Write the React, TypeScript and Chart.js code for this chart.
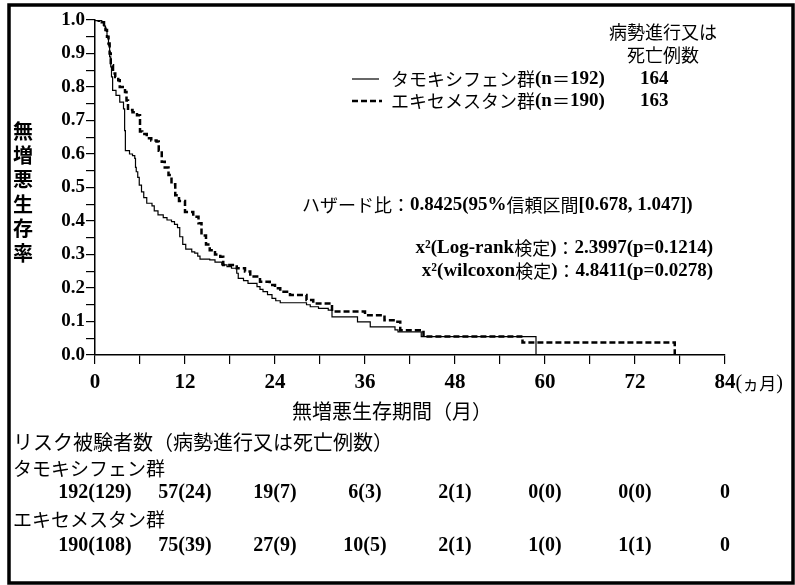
import React, { useEffect, useRef } from 'react';
import { Chart, registerables } from 'chart.js';

Chart.register(...registerables);

// ---- data ----
const tamoxTime = [0, 0.5, 0.9, 1.2, 1.4, 1.6, 1.8, 1.95, 2.1, 2.2, 2.35, 2.8, 3.3, 3.8, 3.95, 4.05, 4.6, 5.0, 5.3, 5.4, 5.5, 5.7, 5.9, 6.2, 6.5, 6.9, 7.6, 7.9, 8.4, 9.1, 9.6, 10.2, 10.6, 11.0, 11.3, 11.7, 12.1, 12.9, 13.3, 13.7, 14.0, 15.3, 16.0, 16.9, 17.6, 18.2, 18.9, 19.1, 19.8, 20.4, 21.6, 22.0, 22.4, 23.0, 23.6, 24.1, 24.7, 28.2, 28.7, 29.8, 31.1, 31.6, 35.0, 36.7, 40.0, 40.4, 43.5, 58.8];
const tamoxSurv = [1, 0.998, 0.993, 0.982, 0.97, 0.95, 0.925, 0.89, 0.86, 0.83, 0.79, 0.775, 0.755, 0.735, 0.67, 0.61, 0.6, 0.595, 0.587, 0.56, 0.547, 0.53, 0.507, 0.487, 0.47, 0.453, 0.445, 0.43, 0.418, 0.41, 0.403, 0.398, 0.39, 0.38, 0.353, 0.33, 0.316, 0.308, 0.304, 0.295, 0.286, 0.284, 0.277, 0.269, 0.264, 0.259, 0.244, 0.229, 0.222, 0.214, 0.204, 0.196, 0.189, 0.18, 0.169, 0.162, 0.156, 0.15, 0.144, 0.139, 0.134, 0.114, 0.099, 0.084, 0.075, 0.069, 0.055, 0];

const exeTime = [0, 0.5, 0.9, 1.2, 1.4, 1.6, 1.8, 1.95, 2.1, 2.4, 2.7, 3.1, 3.3, 4.0, 4.2, 4.4, 5.0, 5.6, 6.0, 6.3, 6.9, 7.5, 8.2, 8.5, 8.9, 9.3, 9.8, 10.2, 10.7, 11.2, 12.0, 13.1, 13.8, 14.2, 14.8, 15.3, 16.0, 16.7, 17.1, 18.9, 20.0, 20.7, 22.0, 23.3, 24.0, 24.7, 26.0, 28.2, 29.1, 31.6, 36.0, 38.6, 40.0, 40.7, 43.3, 43.8, 57.0, 77.3];
const exeSurv = [1, 0.998, 0.993, 0.982, 0.97, 0.95, 0.93, 0.9, 0.865, 0.84, 0.83, 0.82, 0.8, 0.785, 0.76, 0.731, 0.725, 0.716, 0.667, 0.66, 0.647, 0.64, 0.637, 0.61, 0.577, 0.56, 0.537, 0.51, 0.477, 0.46, 0.427, 0.413, 0.393, 0.357, 0.33, 0.313, 0.3, 0.293, 0.269, 0.259, 0.249, 0.234, 0.219, 0.209, 0.199, 0.189, 0.179, 0.164, 0.154, 0.13, 0.119, 0.104, 0.099, 0.074, 0.069, 0.055, 0.037, 0];

const riskTimes = [0, 12, 24, 36, 48, 60, 72, 84];
const tamoxRisk = ['192(129)', '57(24)', '19(7)', '6(3)', '2(1)', '0(0)', '0(0)', '0'];
const exeRisk = ['190(108)', '75(39)', '27(9)', '10(5)', '2(1)', '1(0)', '1(1)', '0'];

const legendLabels = ['タモキシフェン群(n＝192)', 'エキセメスタン群(n＝190)'];
const eventCounts = ['164', '163'];
const legendHeader = ['病勢進行又は', '死亡例数'];
const yTitle = '無増悪生存率';
const xTitle = '無増悪生存期間（月）';
const xUnit = '(ヵ月)';
const hazardText = 'ハザード比：0.8425(95%信頼区間[0.678, 1.047])';
const testTexts = ['x²(Log-rank検定)：2.3997(p=0.1214)', 'x²(wilcoxon検定)：4.8411(p=0.0278)'];
const riskHeader = 'リスク被験者数（病勢進行又は死亡例数）';
const groupNames = ['タモキシフェン群', 'エキセメスタン群'];

// ---- text helpers ----
const LATIN = "'Liberation Serif', 'Times New Roman', serif";
const CJK = "'Noto Sans CJK JP', sans-serif";

function isCJK(ch: string) {
  const c = ch.codePointAt(0) || 0;
  return c >= 0x2e80;
}

function splitRuns(text: string) {
  const runs: { t: string; cjk: boolean }[] = [];
  for (const ch of Array.from(text)) {
    const cj = isCJK(ch);
    const last = runs[runs.length - 1];
    if (last && last.cjk === cj) last.t += ch;
    else runs.push({ t: ch, cjk: cj });
  }
  return runs;
}

function drawMixed(
  ctx: CanvasRenderingContext2D,
  text: string,
  x: number,
  y: number,
  size: number,
  align: 'left' | 'center' | 'right' = 'left',
  cjkWeight = 'normal',
  latinWeight = 'bold',
  latinSize?: number
) {
  const runs = splitRuns(text);
  const fonts = runs.map((r) =>
    r.cjk ? `${cjkWeight} ${size}px ${CJK}` : `${latinWeight} ${latinSize || size}px ${LATIN}`
  );
  const widths = runs.map((r, i) => {
    ctx.font = fonts[i];
    return ctx.measureText(r.t).width;
  });
  const total = widths.reduce((a, b) => a + b, 0);
  let cx = align === 'left' ? x : align === 'right' ? x - total : x - total / 2;
  ctx.textAlign = 'left';
  ctx.textBaseline = 'middle';
  runs.forEach((r, i) => {
    ctx.font = fonts[i];
    ctx.fillText(r.t, cx, y);
    cx += widths[i];
  });
  return total;
}

const overlayPlugin = {
  id: 'overlay',
  beforeDraw(chart: any) {
    const ctx = chart.ctx;
    ctx.save();
    ctx.fillStyle = '#fff';
    ctx.fillRect(0, 0, chart.width, chart.height);
    ctx.restore();
  },
  afterDraw(chart: any) {
    const ctx: CanvasRenderingContext2D = chart.ctx;
    const xs = chart.scales.x;
    ctx.save();
    ctx.fillStyle = '#000';
    ctx.strokeStyle = '#000';

    // y title (vertical stacked)
    Array.from(yTitle).forEach((c, i) => {
      ctx.font = `bold 20px ${CJK}`;
      ctx.textAlign = 'center';
      ctx.textBaseline = 'middle';
      ctx.fillText(c, 23, 131 + i * 24.4);
    });

    // legend header
    drawMixed(ctx, legendHeader[0], 663, 32, 18, 'center');
    drawMixed(ctx, legendHeader[1], 663, 55, 18, 'center');

    // legend rows
    const rowsY = [79, 101];
    ctx.lineWidth = 1.2;
    ctx.setLineDash([]);
    ctx.beginPath();
    ctx.moveTo(352, rowsY[0]);
    ctx.lineTo(379, rowsY[0]);
    ctx.stroke();
    ctx.lineWidth = 2.5;
    ctx.setLineDash([6, 3]);
    ctx.beginPath();
    ctx.moveTo(352, rowsY[1]);
    ctx.lineTo(382, rowsY[1]);
    ctx.stroke();
    ctx.setLineDash([]);
    legendLabels.forEach((l, i) => {
      drawMixed(ctx, l, 391, rowsY[i], 18, 'left', 'normal', 'bold', 19);
      drawMixed(ctx, eventCounts[i], 640, rowsY[i], 19, 'left');
    });

    // stats
    drawMixed(ctx, hazardText, 302, 205, 18, 'left', 'normal', 'bold', 19);
    testTexts.forEach((t, i) => {
      drawMixed(ctx, t, 713, 248 + i * 23, 18, 'right', 'normal', 'bold', 19);
    });

    // x unit after 84
    ctx.font = `bold 21px ${LATIN}`;
    const w84 = ctx.measureText('84').width;
    drawMixed(ctx, xUnit, xs.getPixelForValue(84) + w84 / 2, 384, 17, 'left', 'normal', 'normal', 20);

    // x title
    drawMixed(ctx, xTitle, 392, 411, 20, 'center');

    // risk table
    drawMixed(ctx, riskHeader, 13, 442, 20, 'left');
    drawMixed(ctx, groupNames[0], 13, 469, 19, 'left');
    drawMixed(ctx, groupNames[1], 13, 520, 19, 'left');
    riskTimes.forEach((t, i) => {
      const px = xs.getPixelForValue(t);
      drawMixed(ctx, tamoxRisk[i], px, 493, 20, 'center');
      drawMixed(ctx, exeRisk[i], px, 546, 20, 'center');
    });

    // frame
    ctx.lineWidth = 3.5;
    ctx.strokeRect(9, 5, 784, 578);
    ctx.restore();
  },
};

export default function App() {
  const ref = useRef<HTMLCanvasElement | null>(null);
  useEffect(() => {
    if (!ref.current) return;
    const chart = new Chart(ref.current, {
      type: 'line',
      data: {
        datasets: [
          {
            label: 'タモキシフェン群',
            data: tamoxTime.map((t, i) => ({ x: t, y: tamoxSurv[i] })),
            borderColor: '#000',
            borderWidth: 1.2,
            pointRadius: 0,
            stepped: 'before',
            fill: false,
          },
          {
            label: 'エキセメスタン群',
            data: exeTime.map((t, i) => ({ x: t, y: exeSurv[i] })),
            borderColor: '#000',
            borderWidth: 2.5,
            borderDash: [6, 3],
            pointRadius: 0,
            stepped: 'before',
            fill: false,
          },
        ],
      },
      options: {
        animation: false,
        responsive: false,
        devicePixelRatio: 1,
        layout: { padding: { left: 0, top: 20, right: 70, bottom: 190 } },
        plugins: { legend: { display: false }, tooltip: { enabled: false } },
        scales: {
          x: {
            type: 'linear',
            min: 0,
            max: 84,
            afterFit: (s: any) => {
              s.height = 40;
            },
            border: { display: true, color: '#000', width: 1.5 },
            grid: { drawOnChartArea: false, drawTicks: true, tickLength: 9, color: '#000', lineWidth: 1.2 },
            ticks: {
              stepSize: 6,
              autoSkip: false,
              maxRotation: 0,
              padding: 6,
              color: '#000',
              font: { family: LATIN, size: 21, weight: 'bold' },
              callback: (v: any) => (Math.round(v) % 12 === 0 ? String(Math.round(v)) : ''),
            },
          },
          y: {
            min: 0,
            max: 1,
            afterFit: (s: any) => {
              s.width = 95;
            },
            border: { display: true, color: '#000', width: 1.5 },
            grid: { drawOnChartArea: false, drawTicks: true, tickLength: 9, color: '#000', lineWidth: 1.2 },
            ticks: {
              stepSize: 0.05,
              autoSkip: false,
              padding: 1,
              color: '#000',
              font: { family: LATIN, size: 19, weight: 'bold' },
              callback: (v: any) => {
                const k = Math.round(v * 100);
                return k % 10 === 0 ? (k / 100).toFixed(1) : '';
              },
            },
          },
        },
      },
      plugins: [overlayPlugin],
    } as any);
    return () => chart.destroy();
  }, []);
  return (
    <div style={{ position: 'fixed', left: 0, top: 0, width: 795, height: 585, background: '#fff' }}>
      <canvas ref={ref} width={795} height={585} style={{ width: 795, height: 585, display: 'block' }} />
    </div>
  );
}
